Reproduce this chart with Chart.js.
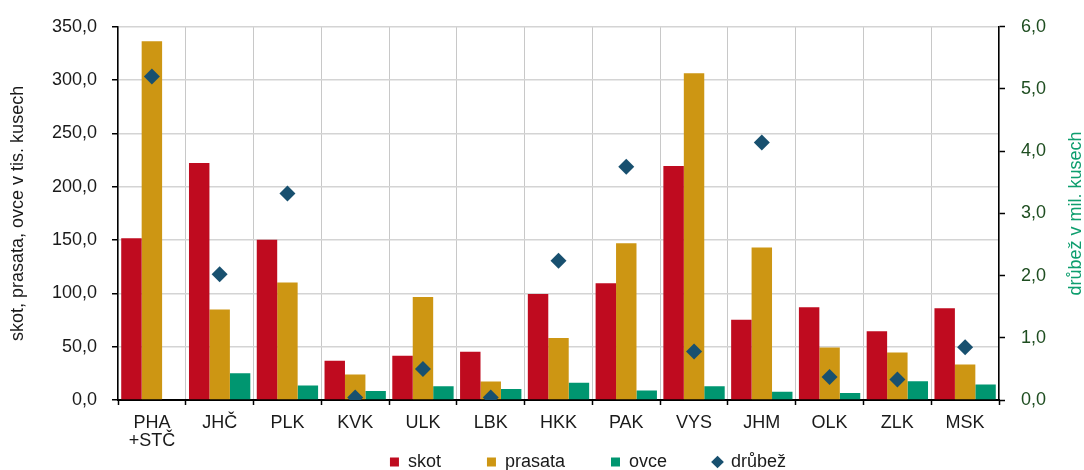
<!DOCTYPE html>
<html>
<head>
<meta charset="utf-8">
<script src="https://cdn.jsdelivr.net/npm/chart.js@4/dist/chart.umd.min.js"></script>
<style>
  body { margin: 0; background: #fff; }
  #wrap { width: 1084px; height: 470px; position: relative; }
</style>
</head>
<body>
<div id="wrap"><canvas id="myChart"></canvas></div>
<script>
// regions (kraje)
const regions = [['PHA', '+STČ'], 'JHČ', 'PLK', 'KVK', 'ULK', 'LBK', 'HKK', 'PAK', 'VYS', 'JHM', 'OLK', 'ZLK', 'MSK'];

// thousands of head
const skot = [151.6, 222.2, 150.4, 36.8, 41.5, 45.2, 99.3, 109.6, 219.4, 75.2, 87.0, 64.4, 86.1];
const prasata = [336.4, 84.8, 110.2, 23.8, 96.6, 17.4, 58.2, 147.0, 306.4, 143.0, 49.2, 44.6, 33.4];
const ovce = [0, 25.0, 13.6, 8.4, 13.0, 10.2, 16.1, 9.0, 13.0, 7.7, 6.5, 17.6, 14.6];

// millions of head
const drubez = [5.20, 2.02, 3.32, 0.04, 0.50, 0.04, 2.24, 3.75, 0.78, 4.14, 0.37, 0.33, 0.85];

const leftTitle = 'skot, prasata, ovce v tis. kusech';
const rightTitle = 'drůbež v mil. kusech';

const fontFamily = "'Liberation Sans', Arial, sans-serif";
Chart.defaults.font.family = fontFamily;
Chart.defaults.font.size = 18;
Chart.defaults.color = '#1a1a1a';

const fmt = (v) => Number(v).toFixed(1).replace('.', ',');

// axis titles (right one reads bottom-to-top, like the left one)
const axisTitles = {
  id: 'axisTitles',
  afterDraw(chart) {
    const { ctx, chartArea } = chart;
    const midY = (chartArea.top + chartArea.bottom) / 2;
    ctx.save();
    ctx.font = '18px ' + fontFamily;
    ctx.textAlign = 'center';
    ctx.textBaseline = 'middle';

    ctx.save();
    ctx.translate(18, midY);
    ctx.rotate(-Math.PI / 2);
    ctx.fillStyle = '#1a1a1a';
    ctx.fillText(leftTitle, 0, 0);
    ctx.restore();

    ctx.save();
    ctx.translate(1076, midY);
    ctx.rotate(-Math.PI / 2);
    ctx.fillStyle = '#0E9E6E';
    ctx.fillText(rightTitle, 0, 0);
    ctx.restore();

    ctx.restore();
  }
};

const ctx = document.getElementById('myChart');
new Chart(ctx, {
  type: 'bar',
  data: {
    labels: regions,
    datasets: [
      { label: 'skot', data: skot, backgroundColor: '#BF0B1F', yAxisID: 'y', order: 1 },
      { label: 'prasata', data: prasata, backgroundColor: '#CD9613', yAxisID: 'y', order: 1 },
      { label: 'ovce', data: ovce, backgroundColor: '#009670', yAxisID: 'y', order: 1 },
      {
        type: 'line',
        label: 'drůbež',
        data: drubez,
        yAxisID: 'y2',
        showLine: false,
        pointStyle: 'rectRot',
        pointRadius: 8,
        pointHoverRadius: 8,
        pointBorderWidth: 0,
        backgroundColor: '#18506F',
        borderColor: '#18506F',
        order: 0
      }
    ]
  },
  options: {
    responsive: true,
    maintainAspectRatio: false,
    animation: false,
    datasets: {
      bar: {
        categoryPercentage: 0.905,
        barPercentage: 1.0,
        borderWidth: 0
      }
    },
    layout: {
      padding: { top: 23, left: 46, right: -46, bottom: -11 }
    },
    plugins: {
      legend: {
        position: 'bottom',
        fullSize: true,
        labels: {
          usePointStyle: true,
          boxWidth: 9,
          boxHeight: 9,
          padding: 46,
          font: { size: 18 },
          color: '#1a1a1a',
          sort: (a, b) => a.datasetIndex - b.datasetIndex,
          generateLabels(chart) {
            const items = Chart.defaults.plugins.legend.labels.generateLabels(chart);
            items.forEach((it) => {
              it.pointStyle = it.datasetIndex === 3 ? 'rectRot' : 'rect';
              it.lineWidth = 0;
            });
            return items;
          }
        }
      },
      tooltip: { enabled: false }
    },
    scales: {
      x: {
        afterFit: (scale) => { scale.height = 7; },
        grid: {
          color: '#C8C8C8',
          lineWidth: 1,
          tickColor: '#000',
          tickLength: 5,
          tickWidth: 1.5
        },
        border: { color: '#000', width: 2 },
        ticks: {
          // mirror keeps the labels from being clipped to the (thin) axis box
          mirror: true,
          padding: -32,
          maxRotation: 0,
          autoSkip: false,
          color: '#1a1a1a',
          font: { size: 18, lineHeight: 1.05 }
        }
      },
      y: {
        position: 'left',
        min: 0,
        max: 350,
        afterFit: (scale) => { scale.width = 72; },
        grid: {
          color: '#D4D4D4',
          lineWidth: 1.5,
          tickColor: '#000',
          tickLength: 6,
          tickWidth: 1.5
        },
        border: { color: '#000', width: 1.5 },
        ticks: {
          stepSize: 50,
          padding: 15,
          color: '#1a1a1a',
          callback: (v) => fmt(v)
        }
      },
      y2: {
        position: 'right',
        min: 0,
        max: 6,
        afterFit: (scale) => { scale.width = 131; },
        grid: {
          drawOnChartArea: false,
          tickColor: '#000',
          tickLength: 6,
          tickWidth: 1.5
        },
        border: { color: '#000', width: 1.5 },
        ticks: {
          stepSize: 1,
          padding: 16,
          color: '#1E4D20',
          callback: (v) => fmt(v)
        }
      }
    }
  },
  plugins: [axisTitles]
});
</script>
</body>
</html>
